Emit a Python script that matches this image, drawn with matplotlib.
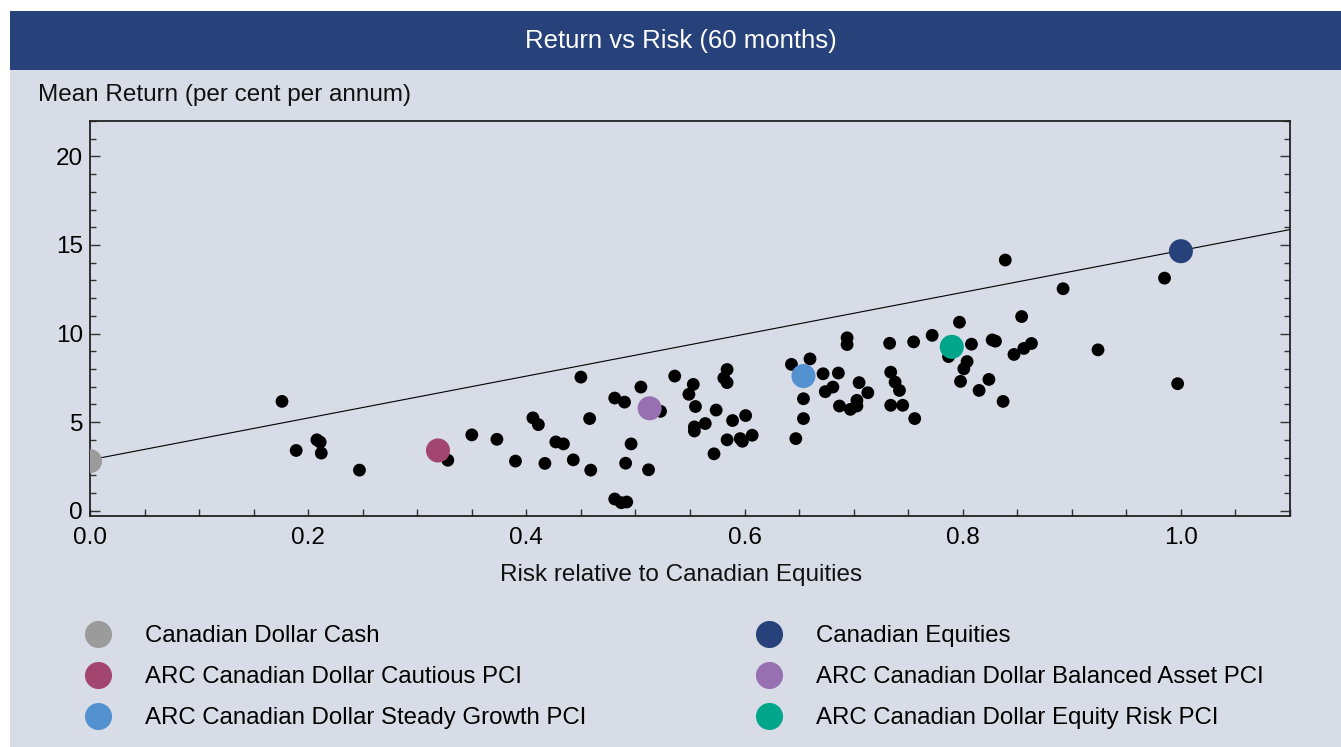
import matplotlib
matplotlib.use("Agg")
import matplotlib.pyplot as plt
from matplotlib.lines import Line2D
from matplotlib.patches import Rectangle
from matplotlib.ticker import MultipleLocator

plt.rcParams['font.family'] = ['Liberation Sans', 'DejaVu Sans']

# peer group funds (black dots): risk relative to equities, mean return % p.a.
peer_risk = [0.176, 0.189, 0.208, 0.211, 0.212, 0.247, 0.328, 0.350, 0.373, 0.390,
             0.406, 0.411, 0.417, 0.427, 0.434, 0.443, 0.450, 0.458, 0.459, 0.481,
             0.481, 0.487, 0.492, 0.490, 0.491, 0.496, 0.505, 0.512, 0.523, 0.536,
             0.553, 0.549, 0.555, 0.554, 0.554, 0.564, 0.572, 0.574, 0.584, 0.581,
             0.584, 0.584, 0.589, 0.596, 0.598, 0.601, 0.607, 0.643, 0.647, 0.660,
             0.672, 0.686, 0.654, 0.654, 0.674, 0.681, 0.687, 0.697, 0.703, 0.703,
             0.705, 0.713, 0.694, 0.694, 0.733, 0.734, 0.738, 0.742, 0.734, 0.745,
             0.756, 0.755, 0.772, 0.787, 0.797, 0.808, 0.804, 0.801, 0.798, 0.824,
             0.815, 0.837, 0.827, 0.830, 0.839, 0.854, 0.892, 0.847, 0.856, 0.863,
             0.924, 0.985, 0.997]
peer_return = [6.17, 3.40, 4.00, 3.87, 3.25, 2.29, 2.85, 4.28, 4.03, 2.80,
               5.24, 4.86, 2.67, 3.88, 3.77, 2.87, 7.54, 5.20, 2.29, 6.36,
               0.66, 0.45, 0.49, 6.13, 2.68, 3.77, 6.98, 2.31, 5.61, 7.60,
               7.13, 6.57, 5.88, 4.73, 4.50, 4.92, 3.21, 5.68, 7.97, 7.49,
               7.23, 4.00, 5.09, 4.07, 3.92, 5.37, 4.26, 8.26, 4.07, 8.57,
               7.73, 7.77, 6.32, 5.20, 6.72, 6.98, 5.91, 5.72, 6.23, 5.91,
               7.23, 6.66, 9.76, 9.38, 9.45, 7.82, 7.26, 6.79, 5.95, 5.95,
               5.20, 9.53, 9.90, 8.70, 10.64, 9.40, 8.42, 8.01, 7.30, 7.41,
               6.79, 6.17, 9.64, 9.57, 14.15, 10.96, 12.53, 8.82, 9.16, 9.44,
               9.08, 13.13, 7.17]

# highlighted series
series_names = ["Canadian Dollar Cash", "ARC Canadian Dollar Cautious PCI",
                "ARC Canadian Dollar Steady Growth PCI", "Canadian Equities",
                "ARC Canadian Dollar Balanced Asset PCI", "ARC Canadian Dollar Equity Risk PCI"]
series_risk = [0.0, 0.319, 0.654, 1.0, 0.513, 0.790]
series_return = [2.80, 3.40, 7.60, 14.65, 5.78, 9.25]
series_colors = ["#9b9b9b", "#a3466f", "#5391d0", "#27427a", "#9670b1", "#00a68a"]

# capital market line
cml_risk = [0.0, 1.1]
cml_return = [2.87, 15.87]

bg = "#d7dce6"
navy = "#27427a"
W, H = 1341, 747

fig = plt.figure(figsize=(W / 100, H / 100), dpi=100)
fig.patch.set_facecolor("white")
fig.patches.append(Rectangle((10 / W, 0), 1 - 10 / W, 1 - 11 / H,
                             transform=fig.transFigure, facecolor=bg, edgecolor="none", zorder=-2))
fig.patches.append(Rectangle((10 / W, 1 - 70 / H), 1 - 10 / W, 59 / H,
                             transform=fig.transFigure, facecolor=navy, edgecolor="none", zorder=-1))
fig.text(681 / W, 1 - 48 / H, "Return vs Risk (60 months)", color="white",
         fontsize=18.5, ha="center", va="baseline")
fig.text(38 / W, 1 - 101 / H, "Mean Return (per cent per annum)", fontsize=17.5,
         ha="left", va="baseline", color="#111111")

ax = fig.add_axes([90 / W, 1 - 516 / H, 1200 / W, 395 / H])
ax.set_zorder(5)
ax.set_facecolor(bg)

ax.plot(cml_risk, cml_return, color="black", lw=0.8, zorder=2)
ax.scatter(peer_risk, peer_return, s=85, color="black", edgecolors="none", zorder=3)
ax.scatter(series_risk, series_return, s=300, c=series_colors, edgecolors="none", zorder=4)

ax.set_xlim(0, 1.1)
ax.set_ylim(-0.3, 22)
ax.xaxis.set_major_locator(MultipleLocator(0.2))
ax.xaxis.set_minor_locator(MultipleLocator(0.05))
ax.yaxis.set_major_locator(MultipleLocator(5))
ax.yaxis.set_minor_locator(MultipleLocator(1))
ax.set_xticks([0.0, 0.2, 0.4, 0.6, 0.8, 1.0])
ax.set_xticklabels(["0.0", "0.2", "0.4", "0.6", "0.8", "1.0"])
ax.tick_params(axis="x", which="both", direction="in", length=5, width=1, top=False,
               labelsize=17.5, pad=8, color="#333333")
ax.tick_params(axis="y", which="major", direction="in", length=7, width=1, right=True,
               labelsize=17.5, pad=5, color="#333333")
ax.tick_params(axis="y", which="minor", direction="in", length=4.3, width=1, right=True,
               color="#333333")
for sp in ax.spines.values():
    sp.set_color("#222222")
    sp.set_linewidth(1.3)
ax.set_xlabel("Risk relative to Canadian Equities", fontsize=17.5, labelpad=11,
              color="#111111", x=0.4925)

handles = [Line2D([], [], marker="o", linestyle="", markersize=19.5, color=c,
                  markeredgewidth=0) for c in series_colors]
leg_kw = dict(loc="upper left", frameon=False, fontsize=17.3, borderpad=0,
              borderaxespad=0, handlelength=1.2, handletextpad=1.36, labelspacing=0.8)
leg1 = fig.legend(handles[:3], series_names[:3], bbox_to_anchor=(83.4 / W, 1 - 625 / H), **leg_kw)
leg2 = fig.legend(handles[3:], series_names[3:], bbox_to_anchor=(754.4 / W, 1 - 625 / H), **leg_kw)

fig.savefig("out.png", dpi=100, facecolor=fig.get_facecolor())
